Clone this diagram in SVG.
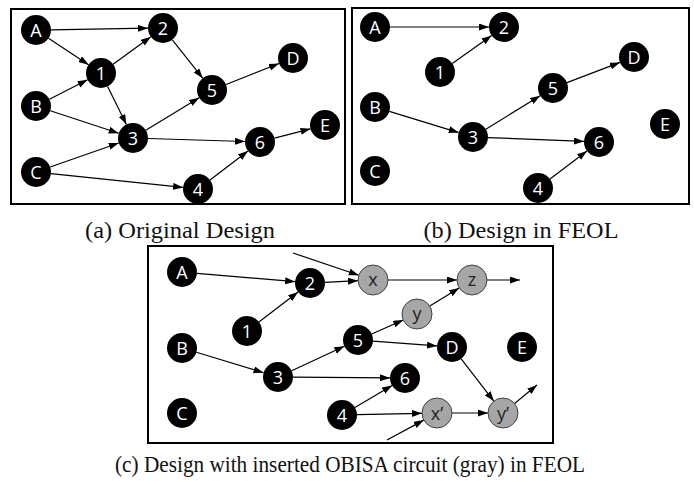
<svg xmlns="http://www.w3.org/2000/svg" width="694" height="481" viewBox="0 0 694 481">
<defs>
<marker id="ah" markerUnits="userSpaceOnUse" markerWidth="11" markerHeight="8" refX="10" refY="3.5" orient="auto"><path d="M0,0 L10,3.5 L0,7 z" fill="#000"/></marker>
</defs>
<style>
.frame{fill:#fff;stroke:#000;stroke-width:2}
.n circle{fill:#000}
.g circle{fill:#a6a6a6;stroke:#404040;stroke-width:1}
.n text{fill:#fff;font-family:"Open Sans","Noto Sans",sans-serif;font-size:18px;text-anchor:middle}
.g text{fill:#222;font-family:"Open Sans","Noto Sans",sans-serif;font-size:18px;text-anchor:middle}
.e line{stroke:#000;stroke-width:1.2;marker-end:url(#ah)}
.e line.gr{stroke:#555;stroke-width:1.6}
.cap{font-family:"Liberation Serif","Times New Roman",serif;font-size:24px;fill:#111;text-anchor:middle}
</style>
<rect width="694" height="481" fill="#fff"/>
<rect class="frame" x="11" y="9" width="334" height="195"/>
<rect class="frame" x="352" y="8" width="337" height="196"/>
<rect class="frame" x="148" y="246" width="405" height="197"/>

<g class="e" id="connectors">
<!-- (a) -->
<line x1="51" y1="29.8" x2="148" y2="28.2"/>
<line x1="48.5" y1="38.3" x2="88.5" y2="64.7"/>
<line x1="49.4" y1="99.2" x2="87.6" y2="79.8"/>
<line x1="50.3" y1="110.7" x2="118.7" y2="133.3"/>
<line x1="113.1" y1="64.2" x2="150.9" y2="36.8"/>
<line x1="107.6" y1="86.5" x2="126.4" y2="124.5"/>
<line x1="172.3" y1="39.8" x2="202.7" y2="78.2"/>
<line x1="226" y1="84.5" x2="279" y2="63.5"/>
<line x1="145.8" y1="130.2" x2="199.2" y2="97.8"/>
<line x1="148" y1="138.5" x2="245" y2="141.5"/>
<line x1="50.2" y1="167" x2="118.8" y2="143"/>
<line x1="50.9" y1="173.6" x2="183.1" y2="187.4"/>
<line x1="210" y1="179.9" x2="248" y2="151.1"/>
<line x1="274.5" y1="138.2" x2="310.5" y2="128.8"/>
<!-- (b) -->
<line x1="390" y1="27" x2="489" y2="27"/>
<line x1="452.3" y1="63.4" x2="491.7" y2="35.6"/>
<line x1="389.3" y1="111.4" x2="458.7" y2="132.6"/>
<line x1="485.8" y1="129.2" x2="540.2" y2="95.8"/>
<line x1="567" y1="82.6" x2="620" y2="62.4"/>
<line x1="488" y1="137.6" x2="584" y2="141.4"/>
<line x1="550" y1="179" x2="587" y2="151"/>
<!-- (c) -->
<line x1="197" y1="273.3" x2="295.1" y2="281.7"/>
<line x1="258.9" y1="321.9" x2="298.1" y2="292.1"/>
<line x1="325" y1="282.3" x2="358" y2="280.7"/>
<line x1="293" y1="253" x2="358.8" y2="275.2"/>
<line class="gr" x1="388" y1="280" x2="457" y2="280"/>
<line x1="487" y1="280" x2="520" y2="280"/>
<line x1="429.8" y1="306.1" x2="459.2" y2="287.9"/>
<line x1="371.7" y1="334" x2="403.3" y2="320"/>
<line x1="373" y1="341.1" x2="437" y2="345.9"/>
<line x1="291.6" y1="370.7" x2="344.4" y2="346.3"/>
<line x1="196.4" y1="352.3" x2="263.6" y2="372.7"/>
<line x1="293" y1="377.1" x2="390" y2="377.9"/>
<line x1="354.9" y1="407.4" x2="392.1" y2="385.6"/>
<line x1="357" y1="414.7" x2="422" y2="413.3"/>
<line x1="387" y1="440" x2="423.8" y2="420.1"/>
<line class="gr" x1="452" y1="413" x2="488" y2="413"/>
<line x1="461.2" y1="358.9" x2="493.8" y2="401.1"/>
<line x1="514.6" y1="403.5" x2="537" y2="385"/>
</g>

<!-- panel (a) nodes -->
<g id="a_A" class="n"><circle cx="36" cy="30" r="15"/><text x="36" y="36.5">A</text></g>
<g id="a_2" class="n"><circle cx="163" cy="28" r="15"/><text x="163" y="34.5">2</text></g>
<g id="a_1" class="n"><circle cx="101" cy="73" r="15"/><text x="101" y="79.5">1</text></g>
<g id="a_B" class="n"><circle cx="36" cy="106" r="15"/><text x="36" y="112.5">B</text></g>
<g id="a_5" class="n"><circle cx="212" cy="90" r="15"/><text x="212" y="96.5">5</text></g>
<g id="a_D" class="n"><circle cx="293" cy="58" r="15"/><text x="293" y="64.5">D</text></g>
<g id="a_3" class="n"><circle cx="133" cy="138" r="15"/><text x="133" y="144.5">3</text></g>
<g id="a_6" class="n"><circle cx="260" cy="142" r="15"/><text x="260" y="148.5">6</text></g>
<g id="a_E" class="n"><circle cx="325" cy="125" r="15"/><text x="325" y="131.5">E</text></g>
<g id="a_C" class="n"><circle cx="36" cy="172" r="15"/><text x="36" y="178.5">C</text></g>
<g id="a_4" class="n"><circle cx="198" cy="189" r="15"/><text x="198" y="195.5">4</text></g>

<!-- panel (b) nodes -->
<g id="b_A" class="n"><circle cx="375" cy="27" r="15"/><text x="375" y="33.5">A</text></g>
<g id="b_2" class="n"><circle cx="504" cy="27" r="15"/><text x="504" y="33.5">2</text></g>
<g id="b_1" class="n"><circle cx="440" cy="72" r="15"/><text x="440" y="78.5">1</text></g>
<g id="b_B" class="n"><circle cx="375" cy="107" r="15"/><text x="375" y="113.5">B</text></g>
<g id="b_5" class="n"><circle cx="553" cy="88" r="15"/><text x="553" y="94.5">5</text></g>
<g id="b_D" class="n"><circle cx="634" cy="57" r="15"/><text x="634" y="63.5">D</text></g>
<g id="b_3" class="n"><circle cx="473" cy="137" r="15"/><text x="473" y="143.5">3</text></g>
<g id="b_6" class="n"><circle cx="599" cy="142" r="15"/><text x="599" y="148.5">6</text></g>
<g id="b_E" class="n"><circle cx="665" cy="124" r="15"/><text x="665" y="130.5">E</text></g>
<g id="b_C" class="n"><circle cx="375" cy="171" r="15"/><text x="375" y="177.5">C</text></g>
<g id="b_4" class="n"><circle cx="538" cy="188" r="15"/><text x="538" y="194.5">4</text></g>

<!-- panel (c) nodes -->
<g id="c_A" class="n"><circle cx="182" cy="272" r="15"/><text x="182" y="278.5">A</text></g>
<g id="c_2" class="n"><circle cx="310" cy="283" r="15"/><text x="310" y="289.5">2</text></g>
<g id="c_x" class="g"><circle cx="373" cy="280" r="15"/><text x="373" y="286">x</text></g>
<g id="c_z" class="g"><circle cx="472" cy="280" r="15"/><text x="472" y="286">z</text></g>
<g id="c_1" class="n"><circle cx="247" cy="331" r="15"/><text x="247" y="337.5">1</text></g>
<g id="c_y" class="g"><circle cx="417" cy="314" r="15"/><text x="417" y="320">y</text></g>
<g id="c_5" class="n"><circle cx="358" cy="340" r="15"/><text x="358" y="346.5">5</text></g>
<g id="c_D" class="n"><circle cx="452" cy="347" r="15"/><text x="452" y="353.5">D</text></g>
<g id="c_E" class="n"><circle cx="522" cy="347" r="15"/><text x="522" y="353.5">E</text></g>
<g id="c_B" class="n"><circle cx="182" cy="348" r="15"/><text x="182" y="354.5">B</text></g>
<g id="c_3" class="n"><circle cx="278" cy="377" r="15"/><text x="278" y="383.5">3</text></g>
<g id="c_6" class="n"><circle cx="405" cy="378" r="15"/><text x="405" y="384.5">6</text></g>
<g id="c_C" class="n"><circle cx="182" cy="413" r="15"/><text x="182" y="419.5">C</text></g>
<g id="c_4" class="n"><circle cx="342" cy="415" r="15"/><text x="342" y="421.5">4</text></g>
<g id="c_xp" class="g"><circle cx="437" cy="413" r="15"/><text x="437" y="419.5">x’</text></g>
<g id="c_yp" class="g"><circle cx="503" cy="413" r="15"/><text x="503" y="419.5">y’</text></g>

<text class="cap" x="180" y="238" textLength="190" lengthAdjust="spacingAndGlyphs">(a) Original Design</text>
<text class="cap" x="521" y="238" textLength="195" lengthAdjust="spacingAndGlyphs">(b) Design in FEOL</text>
<text class="cap" x="350" y="472" textLength="470" lengthAdjust="spacingAndGlyphs">(c) Design with inserted OBISA circuit (gray) in FEOL</text>
</svg>
